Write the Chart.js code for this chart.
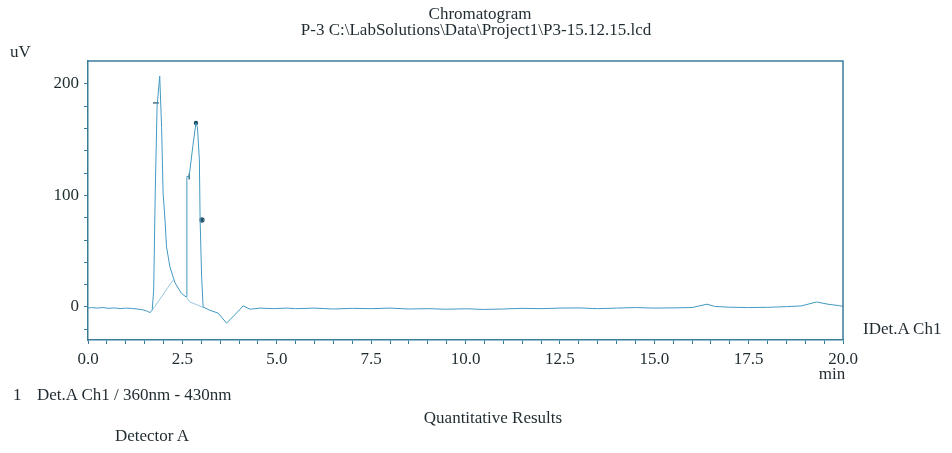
<!DOCTYPE html>
<html>
<head>
<meta charset="utf-8">
<title>Chromatogram</title>
<script src="https://cdn.jsdelivr.net/npm/chart.js@4.4.1/dist/chart.umd.min.js"></script>
<style>
  html, body { margin: 0; padding: 0; background: #fff; }
  #wrap { position: relative; width: 952px; height: 453px; overflow: hidden; }
  #chrom { position: absolute; left: 0; top: 0; }
  .txt {
    position: absolute;
    font-family: "Liberation Serif", "Times New Roman", serif;
    font-size: 17px;
    line-height: 20px;
    color: #1f2b30;
    white-space: nowrap;
  }
  .ctr { transform: translateX(-50%); }
</style>
</head>
<body>
<div id="wrap">
  <canvas id="chrom" width="952" height="453"></canvas>
  <div class="txt ctr" style="left:480px; top:4px;">Chromatogram</div>
  <div class="txt ctr" style="left:476px; top:20px;">P-3 C:\LabSolutions\Data\Project1\P3-15.12.15.lcd</div>
  <div class="txt" style="left:10px; top:42px;">uV</div>
  <div class="txt ctr" style="left:832px; top:364px;">min</div>
  <div class="txt" style="left:863px; top:319px;">IDet.A Ch1</div>
  <div class="txt" style="left:13px; top:385px;">1</div>
  <div class="txt" style="left:37px; top:385px;">Det.A Ch1 / 360nm - 430nm</div>
  <div class="txt ctr" style="left:493px; top:408px;">Quantitative Results</div>
  <div class="txt ctr" style="left:152px; top:426px;">Detector A</div>
</div>
<script>
// Det.A Ch1 trace: retention time (min) and response (uV)
const times = [
  0.00, 0.10, 0.25, 0.40, 0.55, 0.70, 0.85, 1.00, 1.15, 1.30, 1.45, 1.55, 1.64,
  1.70, 1.74, 1.78, 1.83, 1.90, 1.95, 1.99, 2.04, 2.08, 2.17, 2.30, 2.48, 2.60,
  2.62, 2.68, 2.78, 2.86, 2.90, 2.95, 2.97, 3.01, 3.05, 3.23, 3.45, 3.67, 3.89,
  4.11, 4.29, 4.56, 4.91, 5.26, 5.50, 6.00, 6.50, 7.00, 7.50, 8.00, 8.50, 9.00,
  9.50, 10.00, 10.50, 11.00, 11.50, 12.00, 12.50, 13.00, 13.50, 14.00, 14.50,
  15.00, 15.50, 16.00, 16.40, 16.60, 17.00, 17.50, 18.00, 18.50, 18.90, 19.30,
  19.60, 19.90, 20.00, 20.20
];
const signal = [
  -1.0, -0.5, -1.0, -0.5, -1.2, -0.8, -1.5, -1.0, -1.3, -1.8, -2.5, -3.5, -5.0,
  -3.0, 15, 100, 180, 207, 161, 102, 78, 54, 36, 22, 12, 9,
  117, 117, 145, 165, 161, 132, 78, 27, 0, -3.0, -5.5, -14.5, -7.0,
  1.0, -2.0, -1.0, -1.5, -1.0, -1.5, -1.0, -1.8, -1.2, -1.5, -1.0, -1.8, -1.5,
  -2.0, -1.6, -2.2, -1.8, -1.2, -1.5, -1.0, -0.8, -1.5, -1.0, -0.5,
  -1.0, -0.8, -0.5, 2.5, 0.5, -0.2, -0.5, -0.3, 0.3, 1.0, 4.5,
  2.5, 1.2, 0.5, -4.0
];

// integration baselines (null splits the two segments)
const baseTimes = [1.72, 2.25, null, 2.62, 2.70, 2.88, 3.05];
const baseValues = [-2, 24, null, 8, 4.5, 2, -0.5];

// peak start / top / end marks
const markTimes = [1.80, 2.86, 2.68, 3.02];
const markValues = [183, 165, 117, 78];
const markStyles = ["line", "circle", "line", "star"];

// axis ticks
const xTickValues = [0, 2.5, 5, 7.5, 10, 12.5, 15, 17.5, 20];
const xTickLabels = ["0.0", "2.5", "5.0", "7.5", "10.0", "12.5", "15.0", "17.5", "20.0"];
const yTickValues = [0, 100, 200];
const yTickLabels = ["0", "100", "200"];

const lineColor = "#4299c2";
const axisColor = "#3a7d98";

function zip(xs, ys) {
  return xs.map((x, i) => (x === null ? { x: NaN, y: null } : { x: x, y: ys[i] }));
}

// minor tick positions every 0.5 min and every 20 uV
const xMinor = [];
for (let i = 0; i <= 40; i++) xMinor.push(i * 0.5);
const yMinor = [];
for (let v = -20; v <= 200; v += 20) yMinor.push(v);

// top and right edges of the plot frame
const framePlugin = {
  id: "frame",
  afterDraw(chart) {
    const a = chart.chartArea;
    const ctx = chart.ctx;
    ctx.save();
    ctx.strokeStyle = axisColor;
    ctx.lineWidth = 1.5;
    ctx.beginPath();
    ctx.moveTo(a.left, a.top);
    ctx.lineTo(a.right, a.top);
    ctx.lineTo(a.right, a.bottom);
    ctx.stroke();
    ctx.restore();
  },
};

Chart.defaults.font.family = "'Liberation Serif', 'Times New Roman', serif";
Chart.defaults.font.size = 17;
Chart.defaults.color = "#1f2b30";

new Chart(document.getElementById("chrom").getContext("2d"), {
  type: "line",
  data: {
    datasets: [
      {
        label: "Det.A Ch1",
        data: zip(times, signal),
        borderColor: lineColor,
        borderWidth: 1,
        pointRadius: 0,
        tension: 0,
        clip: { left: 0, top: 0, right: 8, bottom: 0 },
      },
      {
        label: "baseline",
        data: zip(baseTimes, baseValues),
        borderColor: "rgba(66,153,194,0.55)",
        borderWidth: 1,
        pointRadius: 0,
        spanGaps: false,
        tension: 0,
      },
      {
        label: "marks",
        type: "scatter",
        data: zip(markTimes, markValues),
        pointStyle: markStyles,
        rotation: [0, 0, 90, 0],
        pointRadius: [3, 1.6, 3, 3],
        borderColor: "#1d4d62",
        backgroundColor: "#1d4d62",
        borderWidth: 1.2,
      },
    ],
  },
  options: {
    responsive: false,
    animation: false,
    layout: { padding: { top: 61, right: 109, left: 0, bottom: 0 } },
    plugins: {
      legend: { display: false },
      tooltip: { enabled: false },
    },
    scales: {
      x: {
        type: "linear",
        min: 0,
        max: 20,
        afterBuildTicks: (scale) => {
          scale.ticks = xMinor.map((v) => ({ value: v }));
        },
        afterFit: (scale) => {
          scale.height = 113;
        },
        grid: { drawOnChartArea: false, tickLength: 4, color: axisColor },
        border: { color: axisColor, width: 1.5 },
        ticks: {
          autoSkip: false,
          maxRotation: 0,
          padding: 5,
          callback: function (value) {
            const i = xTickValues.indexOf(value);
            return i >= 0 ? xTickLabels[i] : "";
          },
        },
      },
      y: {
        type: "linear",
        min: -29.6,
        max: 220.6,
        afterBuildTicks: (scale) => {
          scale.ticks = yMinor.map((v) => ({ value: v }));
        },
        afterFit: (scale) => {
          scale.width = 88;
        },
        grid: { drawOnChartArea: false, tickLength: 4, color: axisColor },
        border: { color: axisColor, width: 1.5 },
        ticks: {
          autoSkip: false,
          padding: 5,
          callback: function (value) {
            const i = yTickValues.indexOf(value);
            return i >= 0 ? yTickLabels[i] : "";
          },
        },
      },
    },
  },
  plugins: [framePlugin],
});
</script>
</body>
</html>
